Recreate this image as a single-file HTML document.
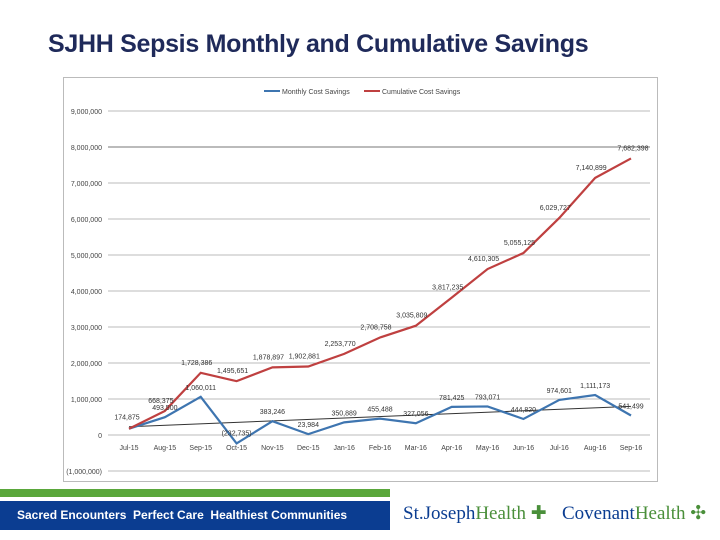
<!DOCTYPE html>
<html><head><meta charset="utf-8"><style>
body{margin:0;width:720px;height:540px;background:#fff;position:relative;overflow:hidden;font-family:"Liberation Sans",sans-serif}
#title{position:absolute;left:48px;top:30px;font-size:25px;font-weight:bold;color:#1f2a5a;white-space:nowrap;letter-spacing:-0.3px}
#frame{position:absolute;left:63px;top:77px;width:595px;height:405px;border:1px solid #bbb;box-sizing:border-box}
#green{position:absolute;left:0;top:489px;width:390px;height:8px;background:#5aa73b}
#blue{position:absolute;left:0;top:501px;width:390px;height:29px;background:#0b3d91;color:#fff;font-size:12px;font-weight:bold;line-height:29px;padding-left:17px;box-sizing:border-box;white-space:nowrap}
.logo{position:absolute;top:502px;font-family:"Liberation Serif",serif;font-size:19px;white-space:nowrap}
</style></head><body>
<div id="title">SJHH Sepsis Monthly and Cumulative Savings</div>
<div id="frame"></div>
<svg id="chart" width="720" height="540" style="position:absolute;left:0;top:0"></svg>
<div id="green"></div>
<div id="blue">Sacred Encounters&nbsp; Perfect Care&nbsp; Healthiest Communities</div>
<div class="logo" style="left:403px;color:#0b3d91">St.Joseph<span style="color:#4a8f3a">Health</span> <span style="color:#4a8f3a">✚</span></div>
<div class="logo" style="left:562px;color:#0b3d91">Covenant<span style="color:#4a8f3a">Health</span> <span style="color:#4a8f3a">✣</span></div>
<script>
const categories=["Jul-15","Aug-15","Sep-15","Oct-15","Nov-15","Dec-15","Jan-16","Feb-16","Mar-16","Apr-16","May-16","Jun-16","Jul-16","Aug-16","Sep-16"];
const monthly=[174875,493500,1060011,-232735,383246,23984,350889,455488,327056,781425,793071,444820,974601,1111173,541499];
const cumulative=[174875,668375,1728386,1495651,1878897,1902881,2253770,2708758,3035809,3817235,4610305,5055125,6029727,7140899,7682398];
const monthlyLabels=["174,875","493,500","1,060,011","(232,735)","383,246","23,984","350,889","455,488","327,056","781,425","793,071","444,820","974,601","1,111,173","541,499"];
const cumLabels=["","668,375","1,728,386","1,495,651","1,878,897","1,902,881","2,253,770","2,708,758","3,035,809","3,817,235","4,610,305","5,055,125","6,029,727","7,140,899","7,682,398"];
const yTicks=[-1000000,0,1000000,2000000,3000000,4000000,5000000,6000000,7000000,8000000,9000000];
const yTickLabels=["(1,000,000)","0","1,000,000","2,000,000","3,000,000","4,000,000","5,000,000","6,000,000","7,000,000","8,000,000","9,000,000"];
const svg=document.getElementById('chart');const NS="http://www.w3.org/2000/svg";
const X0=129,X1=631,XL=108,XR=650;
const x=i=>X0+i*(X1-X0)/(categories.length-1);
const y=v=>435-v/1000000*36;
function mk(t,a,txt){const e=document.createElementNS(NS,t);for(const k in a)e.setAttribute(k,a[k]);if(txt!==undefined)e.textContent=txt;svg.appendChild(e);return e;}
yTicks.forEach((v,i)=>{
 const g=mk('line',{x1:XL,x2:XR,y1:y(v),y2:y(v),stroke:v===8000000?'#777':'#bbb','stroke-width':1});
 
 const t=mk('text',{x:102,y:y(v)+3,'font-size':7,fill:'#444','text-anchor':'end'},yTickLabels[i]);
 
});
categories.forEach((c,i)=>{const t=mk('text',{x:x(i),y:450,'font-size':7,fill:'#444','text-anchor':'middle'},c);
 });
const n=monthly.length;let sx=0,sy=0,sxy=0,sxx=0;monthly.forEach((v,i)=>{sx+=i;sy+=v;sxy+=i*v;sxx+=i*i;});
const b=(n*sxy-sx*sy)/(n*sxx-sx*sx),a=(sy-b*sx)/n;
const tl=mk('line',{x1:x(0),y1:y(a),x2:x(n-1),y2:y(a+b*(n-1)),stroke:'#333','stroke-width':1});

const pm=mk('polyline',{points:monthly.map((v,i)=>x(i)+','+y(v)).join(' '),fill:'none',stroke:'#3e75b0','stroke-width':2.2});

const pc=mk('polyline',{points:cumulative.map((v,i)=>x(i)+','+y(v)).join(' '),fill:'none',stroke:'#bf4040','stroke-width':2.2});

monthly.forEach((v,i)=>{const t=mk('text',{x:x(i)+(i===0?-2:0),y:y(v)-(v<0?-8:7)+(i===0?-2:0),'font-size':7,fill:'#333','text-anchor':'middle'},monthlyLabels[i]);
 if(v<0){t.setAttribute('y',y(v)-8);}
 });
cumulative.forEach((v,i)=>{if(!cumLabels[i])return;const t=mk('text',{x:x(i)-(i===14?-2:4),y:y(v)-8,'font-size':7,fill:'#333','text-anchor':'middle'},cumLabels[i]);
 });
const l1=mk('line',{x1:264,x2:280,y1:91,y2:91,stroke:'#3e75b0','stroke-width':2});
const lt1=mk('text',{x:282,y:94,'font-size':7,fill:'#444'},'Monthly Cost Savings');
const l2=mk('line',{x1:364,x2:380,y1:91,y2:91,stroke:'#bf4040','stroke-width':2});
const lt2=mk('text',{x:382,y:94,'font-size':7,fill:'#444'},'Cumulative Cost Savings');
</script>
</body></html>
